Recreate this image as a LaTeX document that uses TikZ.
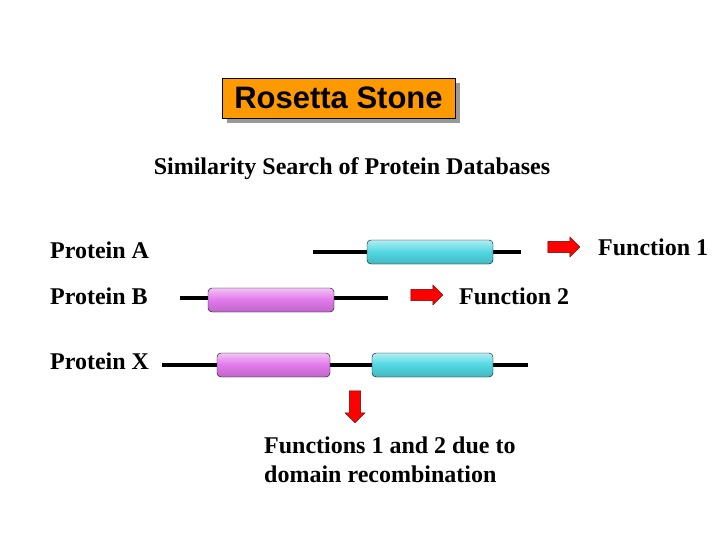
\documentclass[tikz,border=0pt]{standalone}
\usepackage{fontspec}
\setmainfont{Liberation Serif}
\newfontfamily\titlefont{Liberation Sans}
\usetikzlibrary{positioning,shapes.arrows}
\definecolor{cyanbar}{RGB}{80,215,225}
\definecolor{pinkbar}{RGB}{225,120,235}
\definecolor{titleorange}{RGB}{255,153,0}
\tikzset{
  label/.style={font=\fontsize{24}{29}\selectfont\bfseries, inner sep=0pt},
  chain/.style={line width=3.5pt, black},
  domain/.style={draw=black, rounded corners=4pt, minimum height=24pt, inner sep=0pt, top color=#1!45!white, bottom color=#1!85!black, middle color=#1},
  redarrow/.style={single arrow, draw=black!60!red, fill=red, minimum height=32pt, minimum width=20pt, inner sep=5pt, single arrow head extend=4pt, rotate=#1}
}
\begin{document}
\begin{tikzpicture}[x=1pt,y=-1pt]
\useasboundingbox (0,0) rectangle (720,540);
\fill[black!40] (227,83) rectangle (460,123);
\node [draw=black, fill=titleorange, minimum width=233pt, minimum height=40pt, inner sep=0pt, font=\titlefont\fontsize{31}{32}\selectfont\bfseries] (title) at (338.5,98) {Rosetta Stone};
\node [label] (search) at (352,169) {Similarity Search of Protein Databases};
% protein A
\node [label, anchor=west] (protA) at (50,250) {Protein A};
\coordinate (a1) at (313,252); \coordinate (a2) at (521,252);
\draw [chain] (a1) -- (a2);
\node [domain=cyanbar, minimum width=126pt] (domA) at (430,252) {};
\node [redarrow=0] (arrA) at (561,247) {};
\node [label, anchor=west] (funA) at (598,247) {Function 1};
% protein B
\node [label, anchor=west] (protB) at (50,296) {Protein B};
\coordinate (b1) at (180,298); \coordinate (b2) at (388,298);
\draw [chain] (b1) -- (b2);
\node [domain=pinkbar, minimum width=126pt] (domB) at (271,300) {};
\node [redarrow=0] (arrB) at (424,295) {};
\node [label, anchor=west] (funB) at (459,296) {Function 2};
% protein X
\node [label, anchor=west] (protX) at (50,361) {Protein X};
\coordinate (x1) at (162,365); \coordinate (x2) at (528,365);
\draw [chain] (x1) -- (x2);
\node [domain=pinkbar, minimum width=113pt] (domX1) at (273.5,365) {};
\node [domain=cyanbar, minimum width=121pt] (domX2) at (432.5,365) {};
\node [redarrow=-90] (arrX) at (355,404) {};
\node [label, anchor=north west, align=left] (result) at (264,437) {Functions 1 and 2 due to\\domain recombination};
\end{tikzpicture}
\end{document}
